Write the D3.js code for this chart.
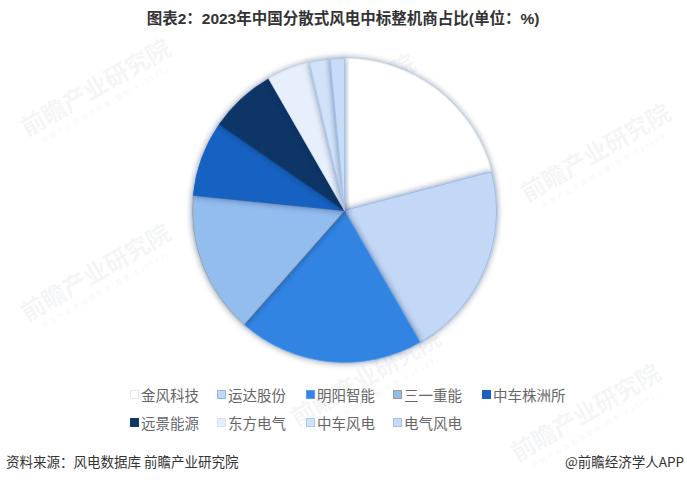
<!DOCTYPE html>
<html><head><meta charset="utf-8">
<script src="https://cdn.jsdelivr.net/npm/d3@7/dist/d3.min.js"></script>
<style>
html,body{margin:0;padding:0;background:#fff;}
svg{display:block;font-family:"Noto Sans CJK SC","Noto Sans",sans-serif;}
</style></head>
<body>
<svg id="chart" width="687" height="482"></svg>
<script>
const categories = ["金风科技","运达股份","明阳智能","三一重能","中车株洲所","远景能源","东方电气","中车风电","电气风电"];
const values = [20.9, 20.8, 19.8, 15.1, 8.0, 7.1, 4.6, 2.2, 1.5];
const colors = ["#ffffff","#c3d8f6","#3384e3","#93bcef","#1762c2","#0f3466","#e6effb","#d2e3f9","#c8dcf8"];
const strokes = ["#e4ecf7","#8fb6ec","#5d9ce8","#9a9a92","#1a5fb8","#123a6e","#d6e3f5","#a9c7f0","#9dbff0"];
const title = "图表2：2023年中国分散式风电中标整机商占比(单位：%)";
const source = "资料来源：风电数据库 前瞻产业研究院";
const credit = "@前瞻经济学人APP";

const svg = d3.select("#chart");
const defs = svg.append("defs");
const f = defs.append("filter").attr("id","sh").attr("x","-30%").attr("y","-30%").attr("width","160%").attr("height","160%");
f.append("feDropShadow").attr("dx",0).attr("dy",0).attr("stdDeviation",3.2)
 .attr("flood-color","#0d2b55").attr("flood-opacity",0.55);

// watermarks (very faint)
const wm = [[100,95],[345,110],[600,160],[100,280],[370,385],[590,420]];
wm.forEach(([x,y])=>{
  const g = svg.append("g").attr("transform",`translate(${x},${y}) rotate(-30)`).attr("opacity",0.06);
  g.append("text").attr("text-anchor","middle").attr("font-size",24).attr("font-weight","bold").attr("fill","#5a6a80").text("前瞻产业研究院");
  g.append("text").attr("text-anchor","middle").attr("y",14).attr("font-size",7).attr("fill","#5a6a80").attr("letter-spacing",2).text("中国产业咨询领导者(股票:839599)");
});

// title
svg.append("text").attr("x",343).attr("y",24).attr("text-anchor","middle")
  .attr("font-size",15.5).attr("font-weight","bold").attr("fill","#333")
  .attr("font-family","'Liberation Sans','Noto Sans CJK SC',sans-serif").text(title);

const cx = 344.5, cy = 210.5, r = 152;
const pie = d3.pie().sort(null).value(d=>d)(values);
const arc = d3.arc().innerRadius(0).outerRadius(r);
const pg = svg.append("g").attr("transform",`translate(${cx},${cy})`);
pg.selectAll("path").data(pie).join("path")
  .attr("d",arc)
  .attr("fill",(d,i)=>colors[i])
  .attr("stroke",(d,i)=>strokes[i])
  .attr("stroke-width",0.8)
  .attr("filter","url(#sh)");

// legend
const lx = [130,217,306,393,482];
const ly = [395,423];
const lg = svg.append("g");
categories.forEach((c,i)=>{
  const row = Math.floor(i/5), col = i%5;
  const g = lg.append("g").attr("transform",`translate(${lx[col]},${ly[row]})`);
  g.append("rect").attr("x",0.5).attr("y",-4.5).attr("width",8).attr("height",8)
    .attr("fill",colors[i]).attr("stroke",i===0?"#e8e8e8":strokes[i]).attr("stroke-width",1);
  g.append("text").attr("x",11).attr("y",5.5).attr("font-size",14.5).attr("fill","#666").text(c);
});

// footer
svg.append("text").attr("x",6).attr("y",467).attr("font-size",13.5).attr("fill","#333").text(source);
svg.append("text").attr("x",684).attr("y",467).attr("text-anchor","end").attr("font-size",13.5).attr("fill","#333").text(credit);
</script>
</body></html>
